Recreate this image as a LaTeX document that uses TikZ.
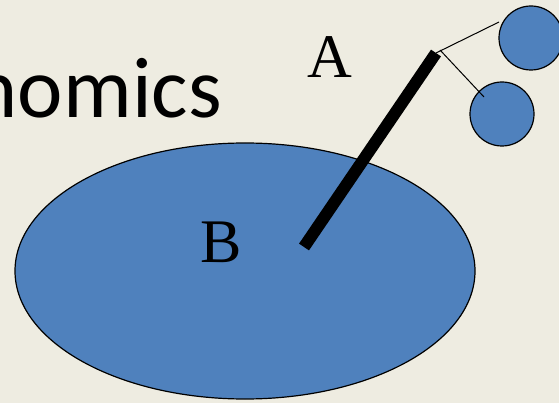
\documentclass[tikz,border=0pt]{standalone}
\usepackage{fontspec}
\setmainfont{Liberation Serif}
\newfontfamily\titlefont{Carlito}
\usetikzlibrary{positioning, shapes.geometric}
\definecolor{bgtan}{HTML}{EEECE1}
\definecolor{ballblue}{HTML}{4F81BD}

\begin{document}
\begin{tikzpicture}[
  x=1pt, y=-1pt,
  body/.style={ellipse, draw, fill=ballblue, line width=1.2pt, minimum width=460pt, minimum height=256pt, inner sep=0pt},
  ball/.style={circle, draw, fill=ballblue, line width=1.2pt, minimum size=64pt, inner sep=0pt},
  letter/.style={font=\fontsize{62}{62}\selectfont, inner sep=0pt},
  stick/.style={line width=12pt, line cap=butt},
  string/.style={line width=1pt}
]
\fill[bgtan] (0,0) rectangle (559,403);
\useasboundingbox (0,0) rectangle (559,403);

% Title remnant
\node[font=\titlefont\fontsize{86}{86}\selectfont, anchor=base east, inner sep=0pt] (title) at (222,118) {nomics};

% Big body and small balls
\node[body] (bigB) at (245,271) {};
\node[ball] (ballTop) at (531,38) {};
\node[ball] (ballLow) at (502,114) {};

% Labels
\node[letter, anchor=base] (labA) at (330,78) {A};
\node[letter, anchor=base] (labB) at (221,262) {B};

% Stick and strings
\coordinate (stickLow) at (304,247);
\coordinate (stickTop) at (436,53);
\coordinate (tieTop) at (499,22);
\coordinate (tieLow) at (484,97);
\draw[stick] (stickLow) -- (stickTop);
\draw[string] (stickTop) -- (tieTop);
\draw[string] ([xshift=4pt,yshift=3pt]stickTop) -- (tieLow);
\end{tikzpicture}
\end{document}
